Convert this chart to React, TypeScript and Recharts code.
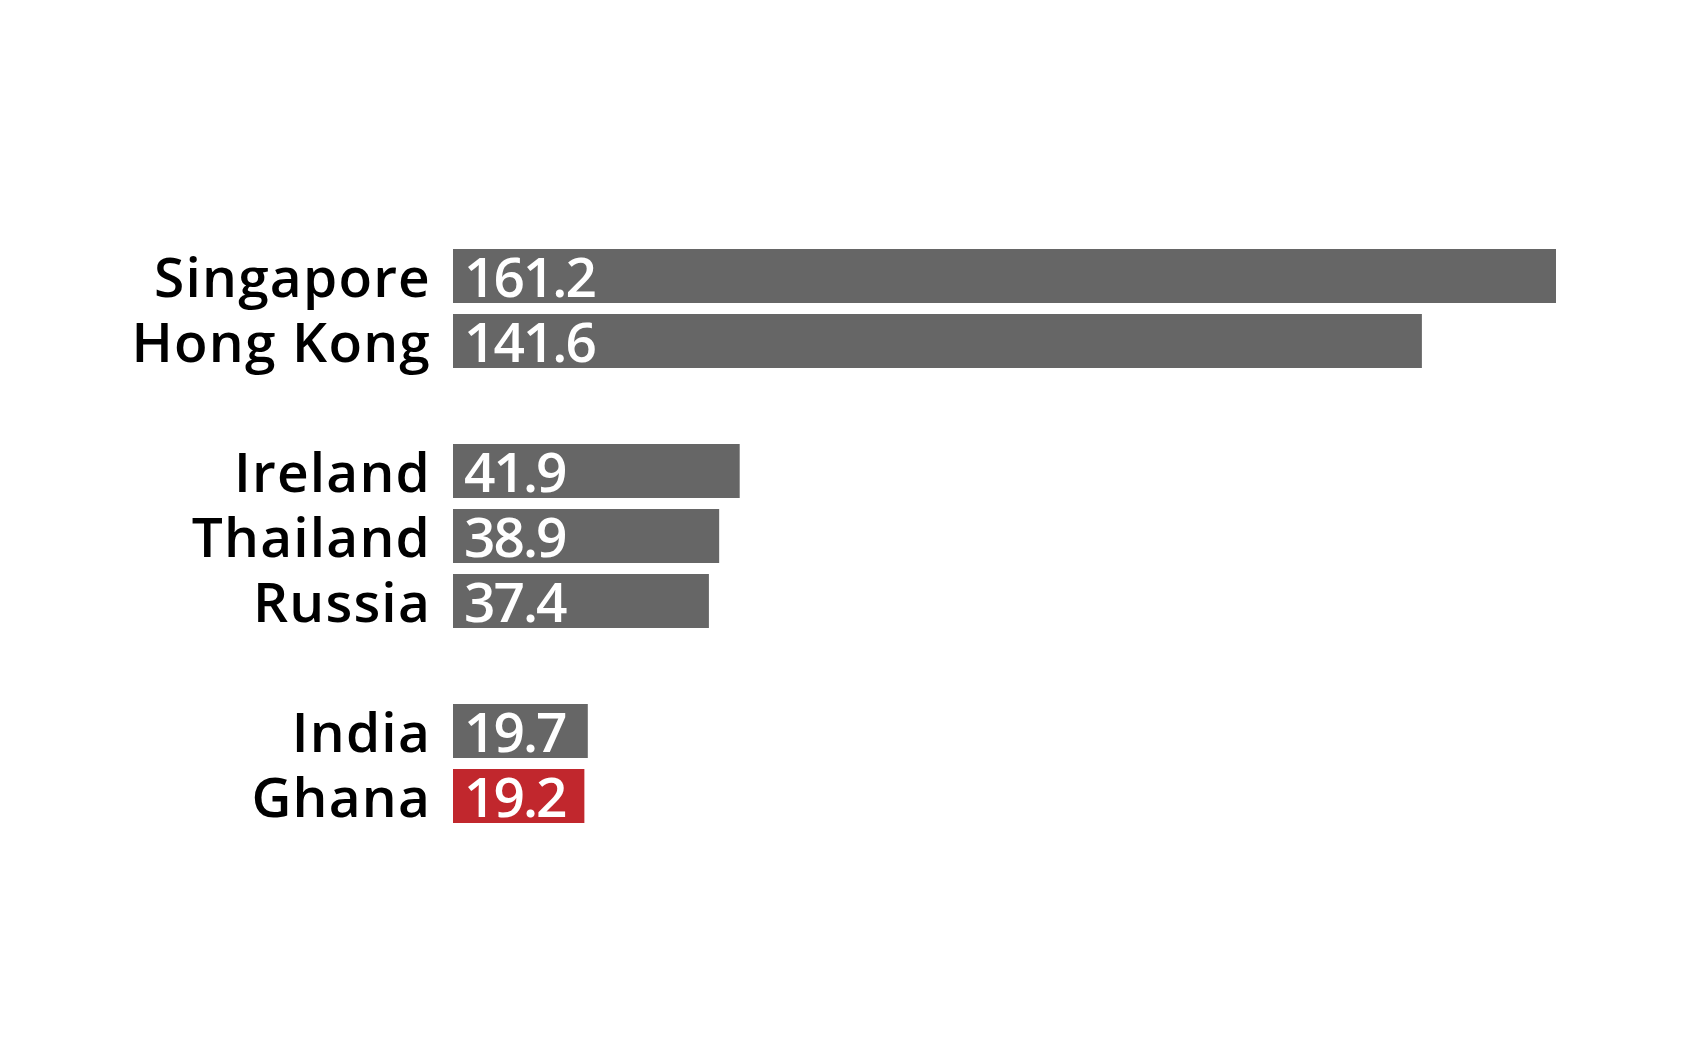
import React from "react";
import { BarChart, Bar, XAxis, YAxis, Cell, LabelList } from "recharts";

// countries in display order; blank rows are the gaps between the groups
const countries = ["Singapore", "Hong Kong", "", "Ireland", "Thailand", "Russia", "", "India", "Ghana"];
const values = [161.2, 141.6, null, 41.9, 38.9, 37.4, null, 19.7, 19.2];
const highlight = "Ghana";

const rows = countries.map((name, i) => ({
  key: name || `gap-${i}`,
  name,
  value: values[i],
}));

const maxValue = Math.max(...values.filter((v): v is number => v !== null));

const FONT = "'Open Sans', sans-serif";
const GREY = "#666666";
const RED = "#C1272D";

const CountryTick = (props: any) => {
  const { x, y, payload } = props;
  const row = rows.find((r) => r.key === payload.value);
  if (!row || !row.name) return null;
  return (
    <text
      x={x}
      y={y + 21}
      textAnchor="end"
      fontFamily={FONT}
      fontWeight={600}
      fontSize={55}
      letterSpacing={1.2}
      fill="#000"
    >
      {row.name}
    </text>
  );
};

const ValueLabel = (props: any) => {
  const { x, y, height, value } = props;
  if (value === null || value === undefined) return null;
  return (
    <text
      x={x + 11}
      y={y + height / 2 + 21}
      fontFamily={FONT}
      fontWeight={600}
      fontSize={55}
      letterSpacing={-2}
      fill="#fff"
    >
      {Number(value).toFixed(1)}
    </text>
  );
};

export default function App() {
  return (
    <div style={{ position: "absolute", left: 0, top: 0, background: "#fff" }}>
      <BarChart
        width={1688}
        height={1055}
        data={rows}
        layout="vertical"
        margin={{ top: 243, right: 132, bottom: 227, left: 0 }}
        barSize={54}
      >
        <XAxis type="number" hide domain={[0, maxValue]} allowDataOverflow />
        <YAxis
          type="category"
          dataKey="key"
          width={453}
          axisLine={false}
          tickLine={false}
          tickSize={0}
          tickMargin={22}
          interval={0}
          tick={<CountryTick />}
        />
        <Bar dataKey="value" isAnimationActive={false}>
          {rows.map((r) => (
            <Cell key={r.key} fill={r.name === highlight ? RED : GREY} />
          ))}
          <LabelList dataKey="value" content={<ValueLabel />} />
        </Bar>
      </BarChart>
    </div>
  );
}
